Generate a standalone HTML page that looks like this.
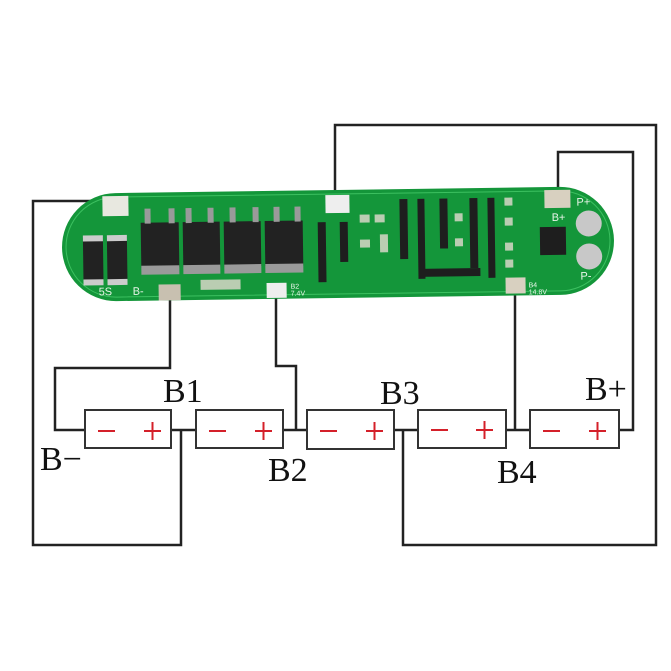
<!DOCTYPE html>
<html><head><style>
html,body{margin:0;padding:0;background:#fff;}
svg{display:block;}
</style></head><body>
<svg width="671" height="671" viewBox="0 0 671 671" xmlns="http://www.w3.org/2000/svg">
<rect width="671" height="671" fill="#fff"/>
<g fill="none" stroke="#222" stroke-width="2.5">
<polyline points="118,201 33,201 33,545 181,545 181,430"/>
<polyline points="170,292 170,368 55,368 55,430 85,430"/>
<polyline points="276,292 276,366 296,366 296,430"/>
<polyline points="335,196 335,125 656,125 656,545 403,545 403,430"/>
<polyline points="515,288 515,430"/>
<polyline points="558,194 558,152 633,152 633,430 619,430"/>
<line x1="171" y1="430" x2="196" y2="430"/>
<line x1="283" y1="430" x2="307" y2="430"/>
<line x1="394" y1="430" x2="418" y2="430"/>
<line x1="506" y1="430" x2="530" y2="430"/>
</g>
<g transform="rotate(-0.8 337 244)">
<rect x="62" y="190" width="552" height="108" rx="54" fill="#14963a"/>
<rect x="66" y="194" width="544" height="100" rx="50" fill="none" stroke="#3cc060" stroke-width="1"/>
<rect x="103" y="193" width="26" height="20" fill="#e8e8e0"/>
<rect x="326" y="195" width="24" height="18" fill="#eee"/>
<rect x="545" y="193" width="26" height="18" fill="#d8d0c0"/>
<rect x="158" y="282" width="22" height="16" fill="#c8c0b0"/>
<rect x="266" y="282" width="20" height="15" fill="#eee"/>
<rect x="505" y="280" width="20" height="16" fill="#d8d0c0"/>
<rect x="83" y="234" width="20" height="46" fill="#222"/>
<rect x="83" y="232" width="20" height="6" fill="#ccc"/>
<rect x="83" y="276" width="20" height="6" fill="#ccc"/>
<rect x="107" y="234" width="20" height="46" fill="#222"/>
<rect x="107" y="232" width="20" height="6" fill="#ccc"/>
<rect x="107" y="276" width="20" height="6" fill="#ccc"/>
<g fill="#222">
<rect x="141" y="220" width="38" height="45"/><rect x="183" y="220" width="37" height="45"/>
<rect x="224" y="220" width="37" height="45"/><rect x="265" y="220" width="38" height="45"/>
</g>
<g fill="#9a9a9a">
<rect x="141" y="263" width="38" height="9"/><rect x="183" y="263" width="37" height="9"/>
<rect x="224" y="263" width="37" height="9"/><rect x="265" y="263" width="38" height="9"/>
<rect x="145" y="206" width="6" height="15"/><rect x="169" y="206" width="6" height="15"/>
<rect x="186" y="206" width="6" height="15"/><rect x="208" y="206" width="6" height="15"/>
<rect x="230" y="206" width="6" height="15"/><rect x="253" y="206" width="6" height="15"/>
<rect x="274" y="206" width="6" height="15"/><rect x="295" y="206" width="6" height="15"/>
</g>
<g fill="#1e1e1e">
<rect x="318" y="222" width="8" height="60"/><rect x="340" y="222" width="8" height="40"/>
<rect x="400" y="200" width="8" height="60"/><rect x="418" y="200" width="7" height="80"/>
<rect x="440" y="200" width="8" height="50"/><rect x="470" y="200" width="8" height="70"/>
<rect x="488" y="200" width="7" height="80"/><rect x="420" y="270" width="60" height="8"/>
<rect x="540" y="230" width="26" height="28"/>
</g>
<g fill="#d7d7c8" opacity="0.85">
<rect x="360" y="215" width="10" height="8"/><rect x="375" y="215" width="10" height="8"/>
<rect x="360" y="240" width="10" height="8"/><rect x="380" y="235" width="8" height="18"/>
<rect x="455" y="215" width="8" height="8"/><rect x="455" y="240" width="8" height="8"/>
<rect x="505" y="200" width="8" height="8"/><rect x="505" y="220" width="8" height="8"/>
<rect x="505" y="245" width="8" height="8"/><rect x="505" y="262" width="8" height="8"/>
<rect x="200" y="278" width="40" height="10"/>
</g>
<circle cx="589" cy="227" r="13" fill="#c8c8c8"/>
<circle cx="589" cy="260" r="13" fill="#c8c8c8"/>
<g fill="#e8f5e8" font-family="Liberation Sans, sans-serif" font-size="11">
<text x="98" y="292">5S</text><text x="132" y="292">B-</text>
<text x="552" y="224">B+</text><text x="577" y="209">P+</text><text x="580" y="283">P-</text>
<text x="528" y="290" font-size="7">B4</text><text x="528" y="297" font-size="7">14.8V</text>
<text x="290" y="288" font-size="7">B2</text><text x="290" y="295" font-size="7">7.4V</text>
</g>
</g>
<g fill="#fff" stroke="#333" stroke-width="2">
<rect x="85" y="410" width="86" height="38"/>
<rect x="196" y="410" width="87" height="38"/>
<rect x="307" y="410" width="87" height="39"/>
<rect x="418" y="410" width="88" height="38"/>
<rect x="530" y="410" width="89" height="38"/>
</g>
<g stroke="#d4202a" stroke-width="2">
<line x1="98" y1="431" x2="115" y2="431"/><line x1="144" y1="431" x2="161" y2="431"/><line x1="152.5" y1="422" x2="152.5" y2="440"/>
<line x1="209" y1="431" x2="226" y2="431"/><line x1="255" y1="431" x2="272" y2="431"/><line x1="263.5" y1="422" x2="263.5" y2="440"/>
<line x1="320" y1="431" x2="337" y2="431"/><line x1="366" y1="431" x2="383" y2="431"/><line x1="374.5" y1="422" x2="374.5" y2="440"/>
<line x1="431" y1="430" x2="448" y2="430"/><line x1="476" y1="430" x2="493" y2="430"/><line x1="484.5" y1="421" x2="484.5" y2="439"/>
<line x1="543" y1="431" x2="560" y2="431"/><line x1="589" y1="431" x2="606" y2="431"/><line x1="597.5" y1="422" x2="597.5" y2="440"/>
</g>
<g font-family="Liberation Serif, serif" font-size="34" fill="#111">
<text x="163" y="402">B1</text>
<text x="268" y="481">B2</text>
<text x="380" y="404">B3</text>
<text x="497" y="483">B4</text>
<text x="585" y="400">B+</text>
<text x="40" y="470">B−</text>
</g>
</svg>
</body></html>
